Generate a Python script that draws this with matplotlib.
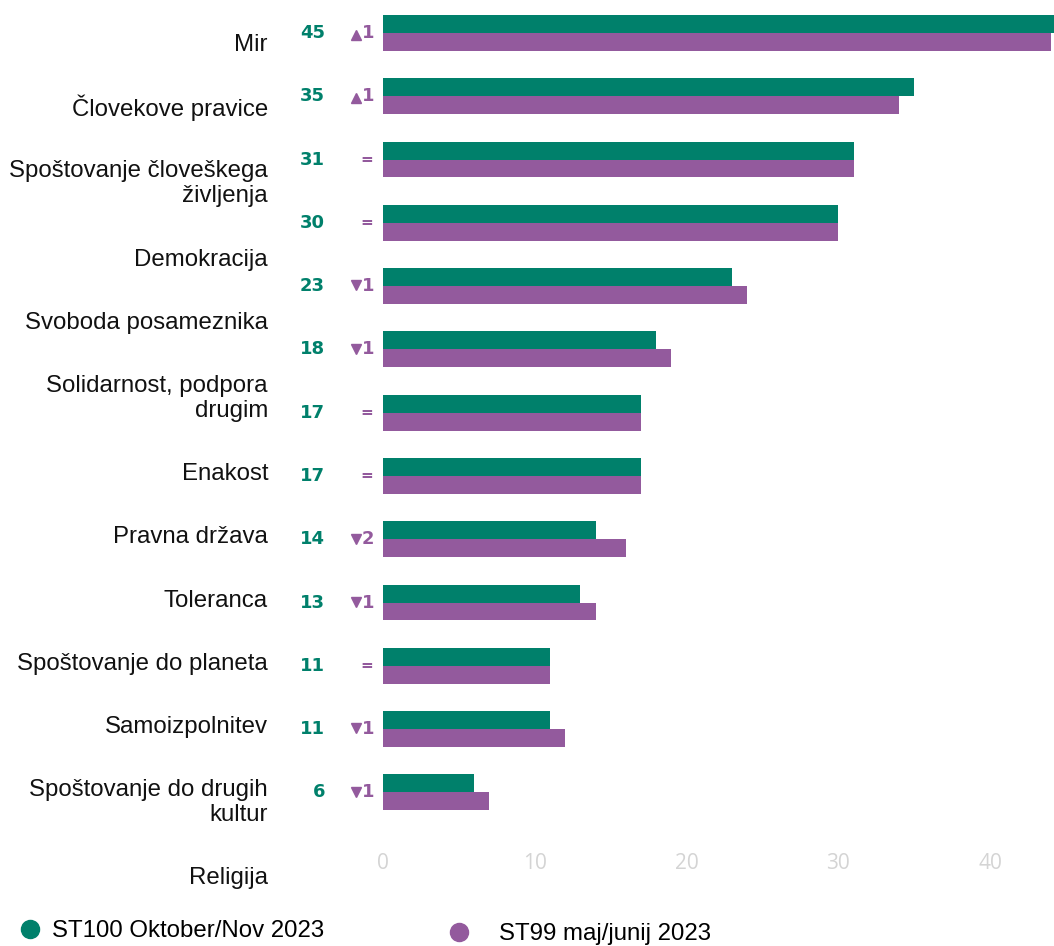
import matplotlib
matplotlib.use("Agg")
import matplotlib.pyplot as plt
from matplotlib.lines import Line2D
from matplotlib.transforms import blended_transform_factory
import numpy as np

# ---- data ----
categories = [
    "Mir", "Človekove pravice", "Spoštovanje človeškega\nživljenja", "Demokracija",
    "Svoboda posameznika", "Solidarnost, podpora\ndrugim", "Enakost", "Pravna država",
    "Toleranca", "Spoštovanje do planeta", "Samoizpolnitev",
    "Spoštovanje do drugih\nkultur", "Religija",
]
st100 = [45, 35, 31, 30, 23, 18, 17, 17, 14, 13, 11, 11, 6]
st99 = [44, 34, 31, 30, 24, 19, 17, 17, 16, 14, 11, 12, 7]
xticks = [0, 10, 20, 30, 40]
series_names = ["ST100 Oktober/Nov 2023", "ST99 maj/junij 2023"]

GREEN = "#00806b"
PURPLE = "#935a9d"

W, H = 1054, 946
fig = plt.figure(figsize=(W / 100, H / 100), dpi=100)
ax = fig.add_axes([383 / W, 1 - 824 / H, 1 - 383 / W, (824 - 1.3) / H])

n = len(st100)
y = np.arange(n)
bh = 0.284
ax.barh(y - bh / 2, st100, height=bh, color=GREEN)
ax.barh(y + bh / 2, st99, height=bh, color=PURPLE)
ax.set_ylim(n - 0.5, -0.5)
ax.set_xlim(0, 44.2)
ax.set_yticks([])
ax.set_xticks(xticks)
ax.set_xticklabels([str(t) for t in xticks], color="#d4d4d4", fontsize=15,
                   fontfamily="Open Sans")
ax.tick_params(axis="x", length=0, pad=21)
for s in ax.spines.values():
    s.set_visible(False)

# value labels and change indicators
tr = blended_transform_factory(fig.transFigure, ax.transData)
for i, (c, p) in enumerate(zip(st100, st99)):
    ax.text(325 / W, i, str(c), transform=tr, ha="right", va="center",
            color=GREEN, fontsize=13, fontweight="bold", fontfamily="DejaVu Sans")
    d = c - p
    if d == 0:
        ax.text(373 / W, i, "=", transform=tr, ha="right", va="center",
                color=PURPLE, fontsize=11, fontweight="bold", fontfamily="DejaVu Sans")
    else:
        ax.text(374 / W, i, str(abs(d)), transform=tr, ha="right", va="center",
                color=PURPLE, fontsize=13, fontweight="bold", fontfamily="DejaVu Sans")
        ax.plot([356 / W], [i + (0.03 if d > 0 else -0.01)], transform=tr,
                marker="^" if d > 0 else "v",
                color=PURPLE, markersize=6.5, clip_on=False, linestyle="none")

# category labels (separate column)
py = 45
for k, lab in enumerate(categories):
    lines = lab.split("\n")
    for ln in lines:
        fig.text(268 / W, 1 - py / H, ln, ha="right", va="center", fontsize=17.3,
                 fontfamily="Liberation Sans", color="#111111")
        py += 25
    py += 63.2 - 25

# legend (two entries, placed separately)
h1 = Line2D([], [], marker="o", linestyle="none", color=GREEN, markersize=13)
h2 = Line2D([], [], marker="o", linestyle="none", color=PURPLE, markersize=13)
prop = {"family": "Liberation Sans", "size": 17.3}
fig.legend([h1], [series_names[0]], loc="center left",
           bbox_to_anchor=(12 / W, 1 - 931 / H), frameon=False, prop=prop,
           handletextpad=0.15, handlelength=1.5, borderaxespad=0, borderpad=0)
fig.legend([h2], [series_names[1]], loc="center left",
           bbox_to_anchor=(441 / W, 1 - 934 / H), frameon=False, prop=prop,
           handletextpad=0.9, handlelength=1.5, borderaxespad=0, borderpad=0)

fig.savefig("out.png", dpi=100)
